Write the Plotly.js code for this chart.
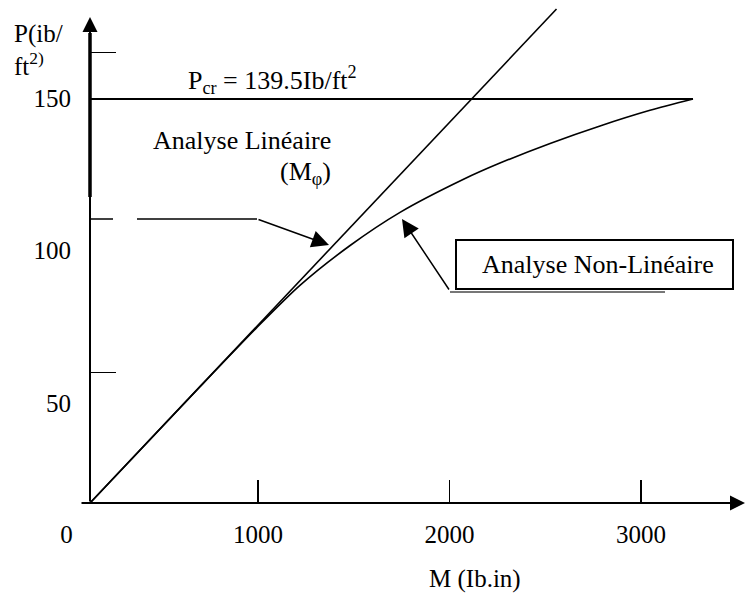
<!DOCTYPE html>
<html><head><meta charset="utf-8">
<script src="https://cdn.plot.ly/plotly-3.0.1.min.js"></script>
<style>html,body{margin:0;padding:0;background:#fff}</style>
</head><body><div id="chart" style="width:746px;height:597px"></div>
<script>
// ---- data ----
const linearM = [0, 2540];
const linearP = [0, 183.4];
const nonlinM = [0, 599, 909, 1143, 1416, 1688, 2031, 2232, 2505, 2777, 3049, 3283];
const nonlinP = [0, 43.2, 65.2, 80.8, 95.6, 107.9, 120.1, 126.2, 133.5, 140.0, 145.8, 150];
const pcrM = [0, 3283];
const pcrP = [150, 150];
// printed scale
const xTickVals = [0, 1000, 2000, 3000];
const xTickLabels = ['0', '1000', '2000', '3000'];
const xTickMarks = [1000, 2000, 3000];
const yTickVals = [50, 100, 150];
const yTickLabels = ['50', '100', '150'];
const yTickMarks = [60, 165];

const FONT = 'Liberation Serif, Times New Roman, serif';
const L = 40, R = 746, T = 0, B = 503;
const px = x => (x - L) / (R - L);
const py = y => (B - y) / (B - T);

const traces = [
  {x: pcrM, y: pcrP, mode: 'lines', line: {color: '#000', width: 2}, hoverinfo: 'skip'},
  {x: linearM, y: linearP, mode: 'lines', line: {color: '#000', width: 1.6}, hoverinfo: 'skip'},
  {x: nonlinM, y: nonlinP, mode: 'lines', line: {color: '#000', width: 1.6, shape: 'spline', smoothing: 0.7}, hoverinfo: 'skip'},
  {x: [], y: [], xaxis: 'x2', yaxis: 'y2', mode: 'lines'},
  {x: [], y: [], xaxis: 'x3', yaxis: 'y3', mode: 'lines'}
];

const yAxPos = px(90);
const xr2 = [-138.4, 3548.3];
const yr2 = [17.21, 182.13];

const seg = (x0, y0, x1, y1, w, c) => ({type: 'line', xref: 'paper', yref: 'paper',
  x0: px(x0), y0: py(y0), x1: px(x1), y1: py(y1), line: {color: c || '#000', width: w}});

const arrow = (hx, hy, tx, ty, w, size) => ({xref: 'paper', yref: 'paper', x: px(hx), y: py(hy),
  ax: tx - hx, ay: ty - hy, axref: 'pixel', ayref: 'pixel', text: '', showarrow: true,
  arrowhead: 2, arrowsize: size, arrowwidth: w, arrowcolor: '#000'});

const txt = (t, x, y, xa, size) => ({xref: 'paper', yref: 'paper', x: px(x), y: py(y),
  xanchor: xa, yanchor: 'middle', text: t, showarrow: false, align: 'left',
  font: {family: FONT, size: size || 26, color: '#000'}});

const tickFont = {family: FONT, size: 25, color: '#000'};

const layout = {
  width: 746, height: 597, autosize: false,
  margin: {l: L, r: 746 - R, t: T, b: 597 - B, pad: 0},
  paper_bgcolor: '#fff', plot_bgcolor: '#fff', showlegend: false,
  xaxis: {range: [(L - 90) / 0.18367, (R - 90) / 0.18367], visible: false},
  yaxis: {range: [0, 503 / 2.6933], visible: false},
  xaxis2: {overlaying: 'x', anchor: 'y2', side: 'bottom', range: xr2,
    tickmode: 'array', tickvals: xTickVals, ticktext: xTickLabels, ticks: '',
    showline: false, showgrid: false, zeroline: false, ticklabelstandoff: 14, tickfont: tickFont},
  yaxis2: {overlaying: 'y', anchor: 'free', position: yAxPos, side: 'left', range: yr2,
    tickmode: 'array', tickvals: yTickVals, ticktext: yTickLabels, ticks: '',
    showline: false, showgrid: false, zeroline: false, ticklabelstandoff: 19, tickfont: tickFont},
  xaxis3: {overlaying: 'x', anchor: 'y3', side: 'bottom', range: xr2,
    tickmode: 'array', tickvals: xTickMarks, ticks: 'inside', ticklen: 23, tickwidth: 1.5,
    tickcolor: '#000', showticklabels: false, showline: false, showgrid: false, zeroline: false},
  yaxis3: {overlaying: 'y', anchor: 'free', position: yAxPos, side: 'left', range: yr2,
    tickmode: 'array', tickvals: yTickMarks, ticks: 'inside', ticklen: 25, tickwidth: 1.5,
    tickcolor: '#000', showticklabels: false, showline: false, showgrid: false, zeroline: false},
  shapes: [
    seg(90, 33, 90, 197, 3.5),
    seg(90, 219, 113, 219, 1.5),
    seg(137, 219, 257, 219, 1.5),
    seg(450, 292, 665, 292, 2, '#777'),
    {type: 'rect', xref: 'paper', yref: 'paper', x0: px(456), y0: py(240), x1: px(733), y1: py(289),
     line: {color: '#000', width: 2}, fillcolor: '#fff'}
  ],
  annotations: [
    arrow(90, 17, 90, 503, 2, 1.5),
    arrow(745, 503, 80, 503, 2, 1.5),
    arrow(329, 245, 257, 219, 1.5, 2.3),
    arrow(402, 219, 450, 291, 1.5, 2.3),
    txt('P<sub>cr</sub> = 139.5Ib/ft<sup>2</sup>', 272, 80, 'center'),
    txt('Analyse Linéaire', 333, 140, 'right'),
    txt('(M<sub>φ</sub>)', 333, 173, 'right'),
    txt('Analyse Non-Linéaire', 598, 264, 'center'),
    txt('P(ib/<br>ft<sup>2)</sup>', 12, 50, 'left', 25),
    txt('M (Ib.in)', 475, 579, 'center', 25)
  ]
};

Plotly.newPlot('chart', traces, layout, {staticPlot: true, displayModeBar: false});
</script>
</body></html>
